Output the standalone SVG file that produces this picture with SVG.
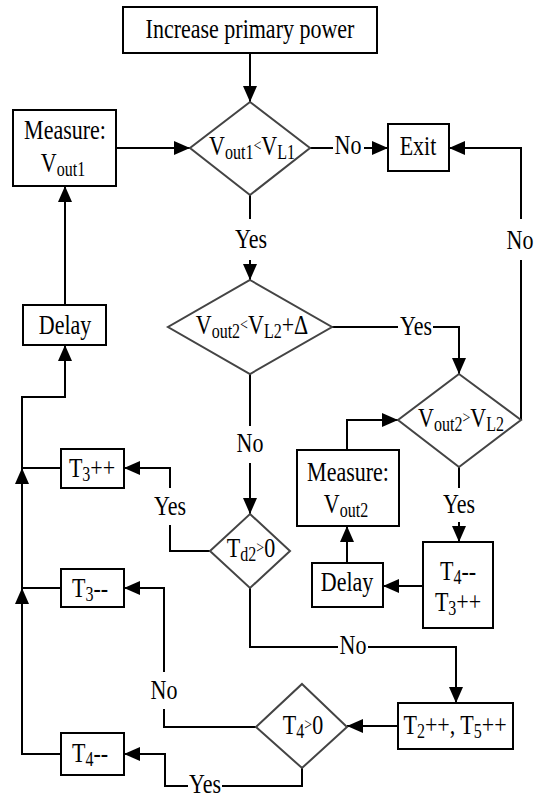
<svg xmlns="http://www.w3.org/2000/svg" width="535" height="800" viewBox="0 0 535 800">
<style>
.box{fill:#fff;stroke:#000;stroke-width:2}
.dia{fill:#fff;stroke:#444;stroke-width:2}
.c{fill:none;stroke:#000;stroke-width:2}
.t{font-family:"Liberation Serif","Times New Roman",serif;font-size:22px;fill:#000;text-anchor:middle}
.s{font-size:16px}
.lt{font-size:14px}
</style>
<defs>
<marker id="ah" markerUnits="userSpaceOnUse" markerWidth="16" markerHeight="14" refX="16" refY="7" orient="auto">
<path d="M0,0 L16,7 L0,14 z" fill="#000"/>
</marker>
</defs>
<rect width="535" height="800" fill="#fff"/>
<g id="connectors">
<path class="c" d="M250,53 V102" marker-end="url(#ah)"/>
<path class="c" d="M116,148 H190" marker-end="url(#ah)"/>
<path class="c" d="M310,148 H333"/>
<path class="c" d="M364,148 H388" marker-end="url(#ah)"/>
<path class="c" d="M521,420 V260"/>
<path class="c" d="M521,219 V148 H449" marker-end="url(#ah)"/>
<path class="c" d="M250,195 V219"/>
<path class="c" d="M250,260 V280" marker-end="url(#ah)"/>
<path class="c" d="M332,327 H398"/>
<path class="c" d="M433,327 H459 V374" marker-end="url(#ah)"/>
<path class="c" d="M250,374 V426"/>
<path class="c" d="M250,463 V514" marker-end="url(#ah)"/>
<path class="c" d="M210,551 H170 V525"/>
<path class="c" d="M170,488 V468 H124" marker-end="url(#ah)"/>
<path class="c" d="M250,588 V647 H338"/>
<path class="c" d="M368,647 H456 V703" marker-end="url(#ah)"/>
<path class="c" d="M398,726 H347" marker-end="url(#ah)"/>
<path class="c" d="M256,727 H164 V709"/>
<path class="c" d="M164,672 V588 H124" marker-end="url(#ah)"/>
<path class="c" d="M302,768 V786 H222"/>
<path class="c" d="M188,786 H165 V754 H124" marker-end="url(#ah)"/>
<path class="c" d="M61,754 H22 V588" marker-end="url(#ah)"/>
<path class="c" d="M61,588 H22"/>
<path class="c" d="M22,588 V468" marker-end="url(#ah)"/>
<path class="c" d="M61,468 H22"/>
<path class="c" d="M22,468 V397 H65 V345" marker-end="url(#ah)"/>
<path class="c" d="M65,305 V186" marker-end="url(#ah)"/>
<path class="c" d="M459,467 V488"/>
<path class="c" d="M459,522 V542" marker-end="url(#ah)"/>
<path class="c" d="M423,586 H383" marker-end="url(#ah)"/>
<path class="c" d="M347,563 V526" marker-end="url(#ah)"/>
<path class="c" d="M347,450 V420 H398" marker-end="url(#ah)"/>
</g>
<g id="labels">
<text class="t" transform="translate(348,154) scale(1,1.25)">No</text>
<text class="t" transform="translate(520,249) scale(1,1.25)">No</text>
<text class="t" transform="translate(251,248) scale(1,1.25)">Yes</text>
<text class="t" transform="translate(416,335) scale(1,1.25)">Yes</text>
<text class="t" transform="translate(250,452) scale(1,1.25)">No</text>
<text class="t" transform="translate(170,515) scale(1,1.25)">Yes</text>
<text class="t" transform="translate(459,513) scale(1,1.25)">Yes</text>
<text class="t" transform="translate(353,654) scale(1,1.25)">No</text>
<text class="t" transform="translate(164,699) scale(1,1.25)">No</text>
<text class="t" transform="translate(205,793) scale(1,1.25)">Yes</text>
</g>
<g id="start">
<rect class="box" x="123" y="7" width="254" height="46"/>
<text class="t" transform="translate(250,38) scale(1,1.25)">Increase primary power</text>
</g>
<g id="measure1">
<rect class="box" x="13" y="110" width="103" height="76"/>
<text class="t" transform="translate(65,139) scale(1,1.25)">Measure:</text>
<text class="t" transform="translate(63,172) scale(1,1.25)">V<tspan class="s" dy="3">out1</tspan></text>
</g>
<g id="dec1">
<polygon class="dia" points="250,102 310,148 250,195 190,148"/>
<text class="t" transform="translate(252,155) scale(1,1.25)">V<tspan class="s" dy="3">out1</tspan><tspan class="lt" dy="-6">&lt;</tspan><tspan dy="3">V</tspan><tspan class="s" dy="3">L1</tspan></text>
</g>
<g id="exit">
<rect class="box" x="388" y="124" width="61" height="47"/>
<text class="t" transform="translate(418,155) scale(1,1.25)">Exit</text>
</g>
<g id="delay1">
<rect class="box" x="23" y="305" width="83" height="40"/>
<text class="t" transform="translate(65,334) scale(1,1.25)">Delay</text>
</g>
<g id="dec2">
<polygon class="dia" points="250,280 332,327 250,374 168,327"/>
<text class="t" transform="translate(252,334) scale(1,1.25)">V<tspan class="s" dy="3">out2</tspan><tspan class="lt" dy="-6">&lt;</tspan><tspan dy="3">V</tspan><tspan class="s" dy="3">L2</tspan><tspan dy="-3">+Δ</tspan></text>
</g>
<g id="dec3">
<polygon class="dia" points="459,374 521,420 459,467 398,420"/>
<text class="t" transform="translate(461,427) scale(1,1.25)">V<tspan class="s" dy="3">out2</tspan><tspan class="lt" dy="-6">&gt;</tspan><tspan dy="3">V</tspan><tspan class="s" dy="3">L2</tspan></text>
</g>
<g id="measure2">
<rect class="box" x="297" y="450" width="102" height="76"/>
<text class="t" transform="translate(348,481) scale(1,1.25)">Measure:</text>
<text class="t" transform="translate(346,513) scale(1,1.25)">V<tspan class="s" dy="3">out2</tspan></text>
</g>
<g id="t3pp">
<rect class="box" x="61" y="449" width="63" height="39"/>
<text class="t" transform="translate(92,477) scale(1,1.25)">T<tspan class="s" dy="3">3</tspan><tspan dy="-3">++</tspan></text>
</g>
<g id="dec4">
<polygon class="dia" points="250,514 290,551 250,588 210,551"/>
<text class="t" transform="translate(251,557) scale(1,1.25)">T<tspan class="s" dy="3">d2</tspan><tspan class="lt" dy="-6">&gt;</tspan><tspan dy="3">0</tspan></text>
</g>
<g id="t4t3">
<rect class="box" x="423" y="542" width="70" height="86"/>
<text class="t" transform="translate(458,580) scale(1,1.25)">T<tspan class="s" dy="3">4</tspan><tspan dy="-3">--</tspan></text>
<text class="t" transform="translate(458,611) scale(1,1.25)">T<tspan class="s" dy="3">3</tspan><tspan dy="-3">++</tspan></text>
</g>
<g id="delay2">
<rect class="box" x="312" y="563" width="71" height="44"/>
<text class="t" transform="translate(347,591) scale(1,1.25)">Delay</text>
</g>
<g id="t3mm">
<rect class="box" x="61" y="569" width="63" height="38"/>
<text class="t" transform="translate(90,597) scale(1,1.25)">T<tspan class="s" dy="3">3</tspan><tspan dy="-3">--</tspan></text>
</g>
<g id="t2t5">
<rect class="box" x="398" y="703" width="115" height="46"/>
<text class="t" transform="translate(455,734) scale(1,1.25)">T<tspan class="s" dy="3">2</tspan><tspan dy="-3">++, T</tspan><tspan class="s" dy="3">5</tspan><tspan dy="-3">++</tspan></text>
</g>
<g id="dec5">
<polygon class="dia" points="302,684 347,727 302,768 256,727"/>
<text class="t" transform="translate(303,734) scale(1,1.25)">T<tspan class="s" dy="3">4</tspan><tspan class="lt" dy="-6">&gt;</tspan><tspan dy="3">0</tspan></text>
</g>
<g id="t4mm">
<rect class="box" x="61" y="733" width="63" height="42"/>
<text class="t" transform="translate(90,762) scale(1,1.25)">T<tspan class="s" dy="3">4</tspan><tspan dy="-3">--</tspan></text>
</g>
</svg>
